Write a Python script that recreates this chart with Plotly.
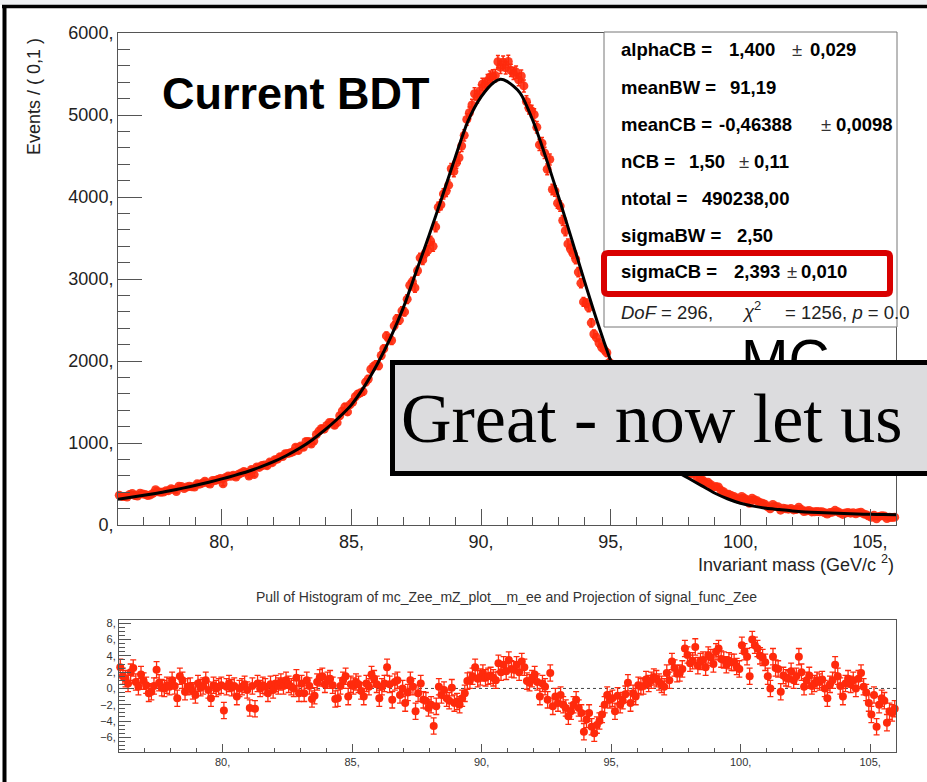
import plotly.graph_objects as go

W, H = 927, 782


def fx(p):
    return p / W


def fy(p):
    return 1 - p / H


# ---- data -----------------------------------------------------------------
bin_low, bin_width, n_bins = 76.0, 0.1, 300
mass = [round(bin_low + bin_width * (i + 0.5), 3) for i in range(n_bins)]

events = [
    363, 349, 348, 342, 372, 385, 360, 354, 387, 377,
    373, 359, 367, 386, 430, 405, 399, 403, 417, 419,
    442, 434, 409, 472, 468, 444, 464, 473, 467, 463,
    502, 498, 510, 534, 513, 499, 543, 542, 555, 567,
    502, 580, 597, 594, 608, 585, 619, 634, 651, 642,
    597, 677, 615, 707, 702, 725, 732, 724, 767, 760,
    797, 803, 833, 834, 869, 872, 880, 892, 948, 908,
    964, 948, 1019, 1019, 988, 1023, 1103, 1145, 1177, 1169,
    1213, 1249, 1249, 1217, 1248, 1332, 1390, 1441, 1379, 1468,
    1500, 1564, 1598, 1611, 1627, 1742, 1780, 1900, 1933, 1958,
    1941, 2067, 2150, 2306, 2272, 2250, 2429, 2514, 2498, 2611,
    2599, 2754, 2923, 2968, 2891, 3101, 3258, 3233, 3316, 3350,
    3464, 3398, 3635, 3875, 3906, 4038, 4069, 4144, 4344, 4312,
    4417, 4479, 4622, 4752, 4946, 5027, 5122, 5259, 5219, 5292,
    5376, 5368, 5419, 5463, 5477, 5481, 5649, 5582, 5643, 5575,
    5653, 5544, 5508, 5523, 5429, 5475, 5355, 5164, 5082, 5049,
    5004, 4850, 4636, 4656, 4538, 4338, 4458, 4092, 4073, 3925,
    3889, 3713, 3588, 3428, 3365, 3311, 3243, 3084, 2949, 2721,
    2705, 2651, 2465, 2329, 2285, 2218, 2168, 2136, 2101, 1983,
    1905, 1753, 1752, 1623, 1562, 1517, 1502, 1338, 1313, 1229,
    1217, 1156, 1105, 1077, 1006, 973, 948, 905, 857, 812,
    774, 796, 747, 783, 737, 697, 681, 675, 717, 678,
    634, 622, 642, 570, 562, 547, 508, 521, 495, 459,
    471, 463, 423, 406, 379, 374, 359, 347, 326, 311,
    348, 327, 309, 264, 326, 307, 295, 275, 266, 252,
    222, 198, 250, 227, 222, 181, 205, 197, 193, 202,
    184, 188, 216, 190, 164, 172, 178, 160, 162, 165,
    161, 163, 149, 133, 153, 157, 179, 161, 146, 129,
    147, 153, 144, 149, 136, 149, 156, 135, 126, 110,
    94, 120, 76, 105, 113, 110, 79, 95, 91, 96,
]

pull = [
    2.6, 1.5, 1.2, 0.6, 2.0, 2.5, 0.8, 0.2, 1.7, 0.9,
    0.4, -0.6, -0.4, 0.3, 2.3, 0.7, 0.1, 0.0, 0.4, 0.2,
    1.0, 0.3, -1.2, 1.5, 1.0, -0.4, 0.2, 0.3, -0.3, -0.8,
    0.6, 0.1, 0.3, 1.0, -0.2, -1.2, 0.4, 0.0, 0.2, 0.4,
    -2.7, 0.2, 0.6, 0.1, 0.3, -1.0, 0.0, 0.2, 0.5, -0.2,
    -2.4, 0.3, -2.5, 0.6, 0.0, 0.4, 0.2, -0.6, 0.5, -0.2,
    0.6, 0.3, 0.8, 0.3, 1.0, 0.5, 0.2, 0.0, 1.3, -0.6,
    0.6, -0.6, 1.0, 0.3, -1.3, -0.9, 0.8, 1.3, 1.5, 0.5,
    1.0, 1.2, 0.4, -1.3, -1.2, 0.3, 1.0, 1.5, -1.0, 0.5,
    0.3, 0.8, 0.5, -0.3, -1.0, 0.6, 0.2, 1.7, 1.2, 0.5,
    -1.2, 0.2, 0.6, 2.6, 0.5, -1.4, 0.8, 1.0, -0.8, 0.0,
    -1.8, -0.5, 1.0, 0.2, -2.8, -0.6, 0.6, -1.4, -1.5, -2.4,
    -2.0, -4.6, -2.2, 0.2, -0.8, -0.2, -1.2, -1.5, 0.1, -1.8,
    -1.6, -2.0, -1.2, -0.6, 0.9, 1.0, 1.5, 2.6, 1.2, 1.4,
    1.9, 1.3, 1.5, 1.6, 1.3, 1.0, 3.1, 2.0, 2.9, 2.1,
    3.5, 2.4, 2.3, 2.9, 2.0, 3.3, 2.6, 0.9, 0.7, 1.2,
    1.7, 0.8, -1.0, 0.6, 0.2, -1.4, 1.9, -2.2, -1.0, -1.8,
    -0.8, -2.0, -2.4, -3.4, -2.8, -2.0, -1.4, -2.4, -3.0, -5.3,
    -3.8, -3.0, -4.7, -5.5, -4.5, -4.0, -3.2, -2.0, -0.8, -1.4,
    -1.2, -2.8, -0.9, -2.0, -1.5, -0.7, 0.7, -1.8, -0.6, -1.0,
    0.4, 0.2, 0.3, 1.1, 0.6, 1.0, 1.4, 1.2, 0.8, 0.5,
    0.2, 1.9, 1.0, 3.3, 2.5, 1.8, 1.9, 2.4, 4.9, 4.1,
    3.1, 3.4, 5.1, 2.8, 3.3, 3.5, 2.6, 4.1, 3.8, 3.0,
    4.5, 4.9, 3.6, 3.5, 2.9, 3.4, 3.2, 3.2, 2.7, 2.4,
    5.3, 4.5, 3.9, 1.5, 6.0, 5.3, 4.9, 4.0, 3.8, 3.2,
    1.5, 0.0, 3.9, 2.5, 2.4, -0.4, 1.6, 1.3, 1.2, 2.1,
    1.0, 1.5, 3.9, 2.0, 0.2, 1.0, 1.6, 0.3, 0.6, 1.0,
    0.8, 1.1, 0.0, -1.2, 0.5, 1.0, 2.9, 1.5, 0.3, -1.0,
    0.6, 1.2, 0.5, 1.0, 0.0, 1.2, 1.9, 0.2, -0.5, -1.8,
    -3.2, -0.8, -4.7, -2.0, -1.2, -1.5, -4.2, -2.8, -3.0, -2.5,
]

# fitted signal model (Breit-Wigner x Crystal Ball projection)
fit_mass = [76.0, 76.5, 77.0, 77.5, 78.0, 78.5, 79.0, 79.5, 80.0, 80.5,
            81.0, 81.5, 82.0, 82.5, 83.0, 83.5, 84.0, 84.5, 85.0, 85.5,
            86.0, 86.5, 87.0, 87.5, 88.0, 88.5, 89.0, 89.5, 90.0, 90.5,
            90.75, 91.0, 91.5, 92.0, 92.5, 93.0, 93.5, 94.0, 94.5, 95.0,
            95.5, 96.0, 96.5, 97.0, 97.5, 98.0, 98.5, 99.0, 99.5, 100.0,
            100.5, 101.0, 101.5, 102.0, 102.5, 103.0, 103.5, 104.0, 104.5,
            105.0, 105.5, 106.0]
fit_events = [315, 338, 362, 388, 418, 450, 485, 522, 562, 605,
              652, 708, 772, 848, 935, 1040, 1165, 1305, 1465, 1690,
              1963, 2280, 2648, 3090, 3537, 4003, 4480, 4928, 5220, 5400,
              5435, 5410, 5270, 4930, 4480, 3990, 3480, 2960, 2460, 2000,
              1580, 1230, 960, 780, 660, 570, 480, 390, 320, 265,
              230, 203, 188, 172, 160, 152, 146, 140, 135,
              130, 127, 124]

mass_ticks = [80, 85, 90, 95, 100, 105]
mass_tick_text = ["80,", "85,", "90,", "95,", "100,", "105,"]
event_ticks = [0, 1000, 2000, 3000, 4000, 5000, 6000]
event_tick_text = ["0,", "1000,", "2000,", "3000,", "4000,", "5000,", "6000,"]
pull_ticks = [-6, -4, -2, 0, 2, 4, 6, 8]
pull_tick_text = ["\u22126,", "\u22124,", "\u22122,", "0,", "2,", "4,", "6,", "8,"]

# fit parameters: (name, value, error)
fit_params = [
    ("alphaCB =", "1,400", "0,029"),
    ("meanBW =", "91,19", None),
    ("meanCB =", "-0,46388", "0,0098"),
    ("nCB =", "1,50", "0,11"),
    ("ntotal =", "490238,00", None),
    ("sigmaBW =", "2,50", None),
    ("sigmaCB =", "2,393", "0,010"),
]

# ---- styling --------------------------------------------------------------
RED = "#ff2a0c"
SANS = "Liberation Sans, Arial, Helvetica, sans-serif"
AXC = "#555555"

fig = go.Figure()

fig.add_trace(go.Scatter(
    x=mass, y=events, mode="markers", xaxis="x", yaxis="y",
    marker=dict(color=RED, size=9, opacity=0.9, line=dict(width=0)),
    error_y=dict(type="sqrt", color=RED, thickness=1.5, width=2),
    cliponaxis=False, showlegend=False,
))
fig.add_trace(go.Scatter(
    x=fit_mass, y=fit_events, mode="lines", xaxis="x", yaxis="y",
    line=dict(color="black", width=3, shape="spline", smoothing=0.8),
    showlegend=False,
))
fig.add_trace(go.Scatter(
    x=mass, y=pull, mode="markers", xaxis="x2", yaxis="y2",
    marker=dict(color=RED, size=8, line=dict(width=0)),
    error_y=dict(type="constant", value=1, color=RED, thickness=1.3, width=3),
    cliponaxis=False, showlegend=False,
))

axis_common = dict(showline=True, linecolor=AXC, linewidth=1, mirror=True,
                   showgrid=False, zeroline=False, ticks="inside",
                   tickcolor=AXC, tickwidth=1)

fig.update_layout(
    width=W, height=H, autosize=False,
    margin=dict(l=0, r=0, t=0, b=0, pad=0, autoexpand=False),
    paper_bgcolor="white", plot_bgcolor="white",
    xaxis=dict(domain=[fx(118), fx(896)], range=[76, 106],
               tickvals=mass_ticks, ticktext=mass_tick_text, ticklen=16,
               tickfont=dict(family=SANS, size=18, color="#222"),
               minor=dict(dtick=1, ticklen=8, ticks="inside", tickcolor=AXC),
               anchor="y", **axis_common),
    yaxis=dict(domain=[fy(525), fy(33)], range=[0, 6000],
               tickvals=event_ticks, ticktext=event_tick_text, ticklen=24,
               tickfont=dict(family=SANS, size=18, color="#222"),
               minor=dict(dtick=200, ticklen=12, ticks="inside", tickcolor=AXC),
               anchor="x", **axis_common),
    xaxis2=dict(domain=[fx(119), fx(896)], range=[76, 106],
                tickvals=mass_ticks, ticktext=mass_tick_text, ticklen=8,
                tickfont=dict(family=SANS, size=11, color="#333"),
                minor=dict(dtick=1, ticklen=4, ticks="inside", tickcolor=AXC),
                anchor="y2", **axis_common),
    yaxis2=dict(domain=[fy(752), fy(620)], range=[-7.8, 8.4],
                tickvals=pull_ticks, ticktext=pull_tick_text, ticklen=12,
                tickfont=dict(family=SANS, size=11, color="#333"),
                minor=dict(dtick=0.5, ticklen=6, ticks="inside", tickcolor=AXC),
                anchor="x2", **axis_common),
)

shapes = [
    # slide background strip and frame
    dict(type="rect", xref="paper", yref="paper", x0=0, x1=1,
         y0=fy(5), y1=1, fillcolor="#eef0f3", line=dict(width=0), layer="below"),
    dict(type="line", xref="paper", yref="paper", x0=fx(2), x1=1,
         y0=fy(6.5), y1=fy(6.5), line=dict(color="black", width=3.5)),
    dict(type="line", xref="paper", yref="paper", x0=fx(4.5), x1=fx(4.5),
         y0=0, y1=fy(5), line=dict(color="black", width=4)),
    # zero line of the pull panel
    dict(type="line", xref="x2 domain", yref="y2", x0=0, x1=1, y0=0, y1=0,
         line=dict(color="#444", width=1, dash="dot"), layer="below"),
    # parameter box
    dict(type="rect", xref="paper", yref="paper", x0=fx(604), x1=fx(897),
         y0=fy(327), y1=fy(32), fillcolor="white",
         line=dict(color="#777", width=1), layer="above"),
]

# highlight around sigmaCB (rounded rectangle)
x0, x1, y0, y1, r = 604, 890, 253, 294, 4
path = (f"M {fx(x0 + r)} {fy(y0)} L {fx(x1 - r)} {fy(y0)} "
        f"Q {fx(x1)} {fy(y0)} {fx(x1)} {fy(y0 + r)} "
        f"L {fx(x1)} {fy(y1 - r)} Q {fx(x1)} {fy(y1)} {fx(x1 - r)} {fy(y1)} "
        f"L {fx(x0 + r)} {fy(y1)} Q {fx(x0)} {fy(y1)} {fx(x0)} {fy(y1 - r)} "
        f"L {fx(x0)} {fy(y0 + r)} Q {fx(x0)} {fy(y0)} {fx(x0 + r)} {fy(y0)} Z")
shapes.append(dict(type="path", xref="paper", yref="paper", path=path,
                   line=dict(color="#d90000", width=6), layer="above"))
fig.update_layout(shapes=shapes)

ann = []


def label(x, y, text, size, color="black", xanchor="left", yanchor="middle",
          family=SANS, angle=0):
    ann.append(dict(x=fx(x), y=fy(y), xref="paper", yref="paper", text=text,
                    showarrow=False, xanchor=xanchor, yanchor=yanchor,
                    textangle=angle, font=dict(family=family, size=size, color=color)))


label(34, 97, "Events / ( 0,1 )", 18, "#222", xanchor="center", angle=-90)
label(896, 563, "Invariant mass (GeV/c <sup>2</sup>)", 18, "#222", xanchor="right")
label(160, 94, "<b>Current BDT</b>", 45)
label(506, 597, "Pull of Histogram of mc_Zee_mZ_plot__m_ee and Projection of signal_func_Zee",
      14, "#333", xanchor="center")

# parameter lines: x positions of name, value, +- sign and error
row_y = [50, 88, 124, 161.5, 198, 235, 271]
value_x = [727, 728, 717, 687, 700, 735, 732]
pm_x = [790, None, 819, 737, None, None, 785]
err_x = [808, None, 834, 752, None, None, 799]
for (name, val, err), yy, vx, px, ex in zip(fit_params, row_y, value_x, pm_x, err_x):
    label(619, yy, f"<b>{name}</b>", 18.5)
    label(vx, yy, f"<b>{val}</b>", 18.5)
    if err is not None:
        label(px, yy, "\u00b1", 18.5, "#333")
        label(ex, yy, f"<b>{err}</b>", 18.5)

label(619, 312, "<i>DoF</i> = 296,", 18.5, "#222")
label(740, 310, "<i>\u03c7</i><sup>2</sup>", 18.5, "#222")
label(783, 312, "= 1256, <i>p</i> = 0.0", 18.5, "#222")

label(739, 360, "MC", 57)

fig.update_layout(annotations=ann)

# slide callout box drawn over the plot
fig.add_annotation(
    x=fx(390), y=fy(360), xref="paper", yref="paper",
    xanchor="left", yanchor="top", showarrow=False,
    text="Great - now let us",
    font=dict(family="Liberation Serif, Times New Roman, serif", size=70, color="black"),
    align="left", valign="middle", width=700, height=94,
    bgcolor="#dcdcde", bordercolor="black", borderwidth=5, borderpad=6,
)

fig.write_html("out.html")
